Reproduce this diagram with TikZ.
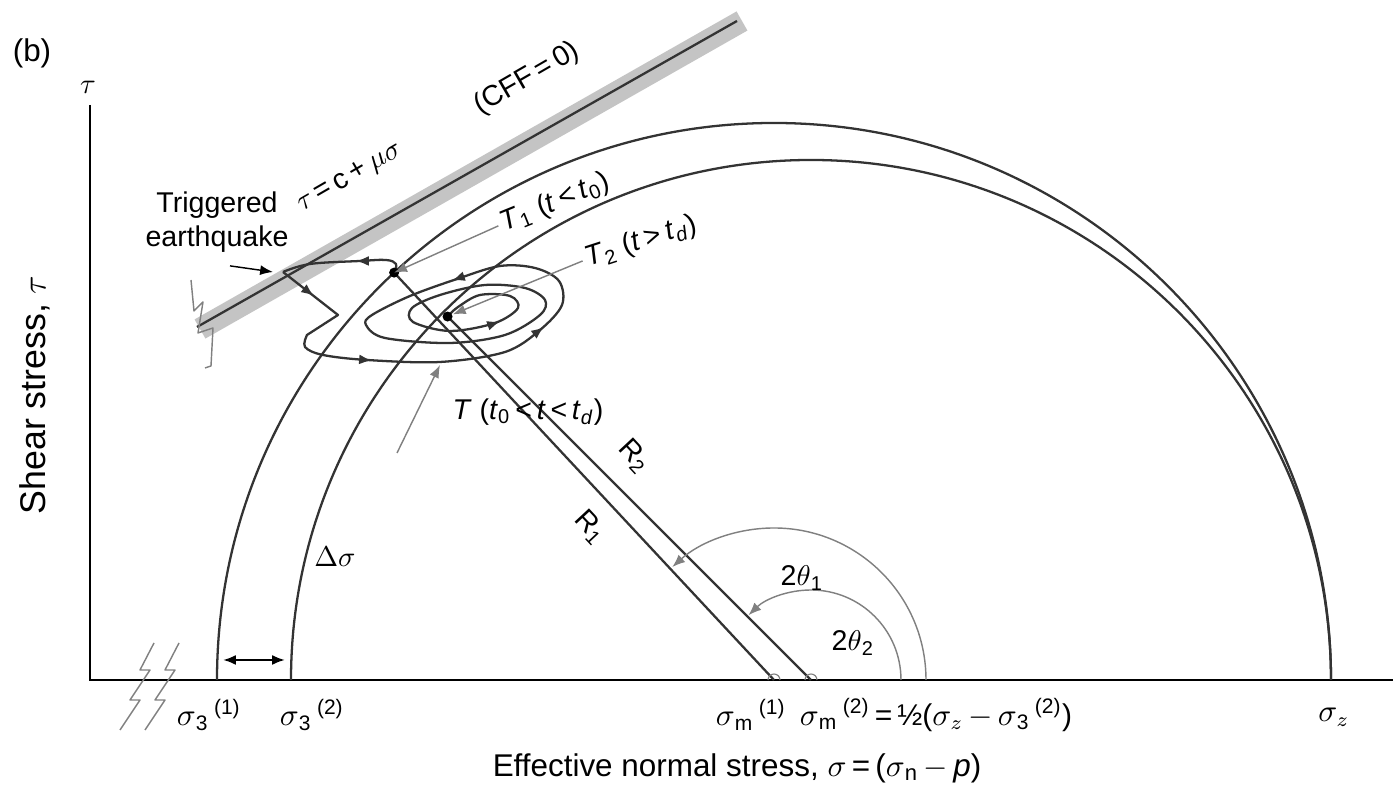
\documentclass[tikz,border=0pt]{standalone}
\usepackage{fontspec}
\setmainfont{Liberation Sans}
\usepackage{tikz}
\usetikzlibrary{arrows.meta}
\definecolor{bandgray}{HTML}{C4C4C4}
\definecolor{inkgray}{HTML}{333333}
\definecolor{thingray}{HTML}{808080}

\begin{document}
\begin{tikzpicture}[
  x=0.35pt, y=0.35pt,
  lbl/.style={font=\fontsize{10}{12}\selectfont,inner sep=1pt},
  axlbl/.style={font=\fontsize{10.5}{12}\selectfont,inner sep=1pt},
  biglbl/.style={font=\fontsize{11}{13}\selectfont,inner sep=1pt},
  axisline/.style={line width=0.9pt,black},
  mohr/.style={line width=0.8pt,inkgray},
  rline/.style={line width=0.8pt,inkgray},
  traj/.style={line width=0.8pt,inkgray,line join=round},
  anglearc/.style={line width=0.5pt,thingray,-{Latex[length=4.5pt,width=3.5pt]}},
  pointer/.style={line width=0.5pt,thingray,-{Latex[length=4.5pt,width=3.5pt]}},
  tipmark/.style={line width=0.8pt,inkgray,-{Latex[length=4.5pt,width=3.5pt]}},
  breakmark/.style={line width=0.5pt,thingray,line join=round},
  bump/.style={line width=0.4pt,thingray}
]
\useasboundingbox (0,0) rectangle (1393,789);

\coordinate (orig) at (90,109);
\coordinate (c1) at (774,109);
\coordinate (c2) at (811,109);
\path (c1) ++(133:557) coordinate (T1);
\path (c2) ++(135:514) coordinate (T2);
\coordinate (fl1) at (197,462);
\coordinate (fl2) at (737,768);
\coordinate (quake) at (283,517);

% failure envelope
\draw[line width=7.7pt,bandgray] (200,460) -- (742,768);
\draw[line width=0.8pt,inkgray] (fl1) -- (fl2);
\draw[breakmark] (191,509) -- (194,478) -- (203,487) -- (198,456) -- (213,461) -- (211,423) -- (205,421);

% axes
\draw[axisline] (90,684) -- (orig) -- (1393,109);
\draw[breakmark] (154,146) -- (140,119) -- (150,119) -- (130,89) -- (140,89) -- (120,59);
\draw[breakmark] (179,146) -- (165,119) -- (175,119) -- (155,89) -- (165,89) -- (145,59);

% Mohr circles
\draw[mohr] (c1) ++(557,0) arc (0:180:557);
\draw[mohr] (c2) ++(520,0) arc (0:180:520);
\draw[rline] (T1) -- (c1);
\draw[rline] (T2) -- (c2);
\draw[bump] (c1) ++(6,0) arc (0:180:6);
\draw[bump] (c2) ++(6,0) arc (0:180:6);
\draw[anglearc] (c1) ++(152,0) arc (0:132:152);
\draw[anglearc] (c2) ++(90,0) arc (0:134:90);
\draw[{Latex[length=4.5pt,width=3.5pt]}-{Latex[length=4.5pt,width=3.5pt]},line width=0.8pt] (223,129) coordinate (ds1) -- (285,129) coordinate (ds2);

% stress path
\draw[traj] plot[smooth,tension=0.6] coordinates {(T1) (396,525) (386,529) (360,528) (310,525) (quake)};
\draw[traj] (quake) -- (338,474) -- plot[smooth,tension=0.55] coordinates {(307,454) (305,442) (323,434) (367,429) (440,427) (505,437) (540,459) (562,484) (559,508) (535,521) (500,523) (457,510) (410,493) (372,474) (366,464) (385,451) (450,446) (505,454) (540,474) (545,489) (525,501) (485,504) (440,494) (412,481) (413,467) (450,458) (495,466) (518,481) (510,493) (480,494) (458,482) (T2)};
\draw[tipmark] (366,528) -- (356,528);
\draw[tipmark] (306,499) -- (314,493);
\draw[tipmark] (360,429.5) -- (372,428.5);
\draw[tipmark] (536,456) -- (544,462);
\draw[tipmark] (462,512) -- (452,508.5);
\draw[tipmark] (490,464) -- (500,467.5);
\fill[black] (T1) circle (5);
\fill[black] (T2) circle (5);

% labels
\node[biglbl] (panel) at (32,736) {(b)};
\node[lbl] (taulab) at (88,702) {$\tau$};
\node[rotate=90,inner sep=1pt,font=\fontsize{12.5}{14}\selectfont] (ylab) at (35,394) {Shear stress, $\tau$};
\node[biglbl] (xlab) at (737,21) {Effective normal stress, $\sigma$\,=\,($\sigma$\textsubscript{n}\,$-$\,\textit{p})};
\node[lbl,rotate=30] (envlab) at (350,611) {$\tau$\,=\,c\,+\,$\mu\sigma$};
\node[lbl,rotate=30] (cfflab) at (527,710) {(CFF\,=\,0)};
\node[lbl,align=center] (trig) at (217,567) {Triggered\\earthquake};
\node[lbl,rotate=22] (t1lab) at (555,586) {\textit{T}\textsubscript{1} (\textit{t}\,<\,\textit{t}\textsubscript{0})};
\node[lbl,rotate=18] (t2lab) at (641,547) {\textit{T}\textsubscript{2} (\textit{t}\,>\,\textit{t}\textsubscript{\textit{d}})};
\node[lbl] (tlab) at (528,377) {\textit{T} (\textit{t}\textsubscript{0}\,<\,\textit{t}\,<\,\textit{t}\textsubscript{\textit{d}})};
\node[lbl,rotate=-47] (r2lab) at (634,333) {R\textsubscript{2}};
\node[lbl,rotate=-47] (r1lab) at (590,262) {R\textsubscript{1}};
\node[lbl] (dslab) at (335,232) {$\Delta\sigma$};
\node[lbl] (th1lab) at (802,211) {2$\theta$\textsubscript{1}};
\node[lbl] (th2lab) at (853,146) {2$\theta$\textsubscript{2}};
\node[axlbl] (s31lab) at (209,74) {$\sigma$\textsubscript{3}\,\textsuperscript{(1)}};
\node[axlbl] (s32lab) at (312,74) {$\sigma$\textsubscript{3}\,\textsuperscript{(2)}};
\node[axlbl] (sm1lab) at (751,74) {$\sigma$\textsubscript{m}\,\textsuperscript{(1)}};
\node[axlbl] (sm2lab) at (936,74) {$\sigma$\textsubscript{m}\,\textsuperscript{(2)}\,=\,½($\sigma_z$\,$-$\,$\sigma$\textsubscript{3}\,\textsuperscript{(2)})};
\node[axlbl] (szlab) at (1334,72) {$\sigma_z$};

% pointers
\coordinate (tfoot) at (397,336);
\coordinate (tloop) at (440,424);
\draw[pointer] (t1lab.west) -- (T1);
\draw[pointer,shorten >=2pt] (t2lab.west) -- (T2);
\draw[pointer] (tfoot) -- (tloop);
\draw[line width=0.5pt,black,-{Latex[length=4.5pt,width=3.5pt]}] ([shift={(13,-10)}]trig.south) -- (273,517);
\end{tikzpicture}
\end{document}
